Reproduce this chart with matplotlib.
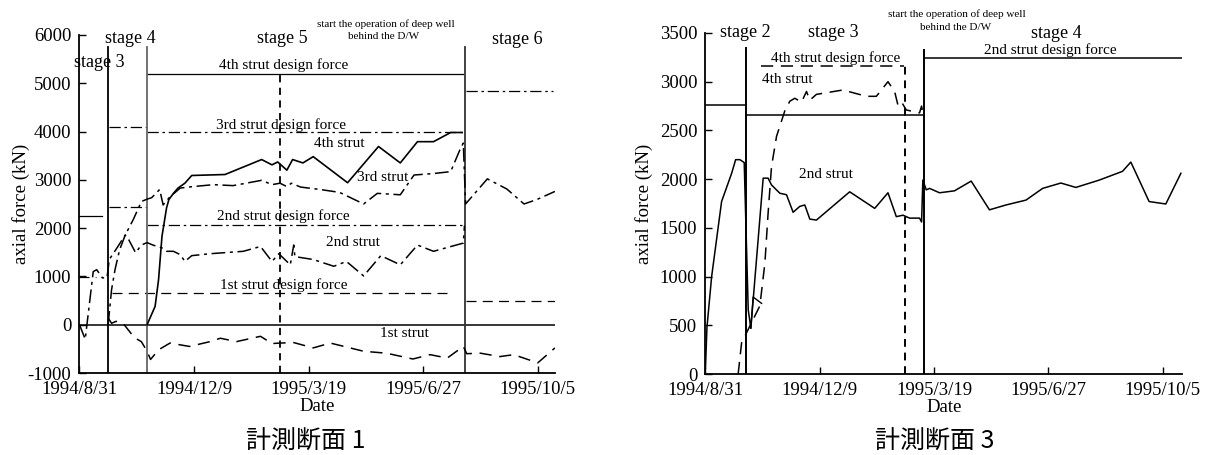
#!/usr/bin/env python3
"""Axial strut forces at two measuring sections (section 1 and section 3)."""
import numpy as np
import matplotlib.pyplot as plt

plt.rcParams["font.family"] = ["Liberation Serif", "DejaVu Serif"]
plt.rcParams["axes.unicode_minus"] = False

# x values are days counted from 1994/8/31
date_ticks = [0, 100, 200, 300, 400]
date_labels = ["1994/8/31", "1994/12/9", "1995/3/19", "1995/6/27", "1995/10/5"]

# ---------------- section 1 ----------------
s1_yticks = [-1000, 0, 1000, 2000, 3000, 4000, 5000, 6000]

s1_strut1_day = [25, 28, 32, 38, 48, 54, 59, 62, 69, 79, 96, 114, 123, 137, 158,
                 168, 175, 187, 204, 219, 248, 268, 291, 306, 321, 335, 338, 350,
                 367, 379, 400, 415]
s1_strut1_kn = [140, 30, 70, 30, -270, -350, -550, -720, -520, -380, -450, -350,
                -280, -350, -240, -390, -380, -370, -480, -380, -550, -590, -710,
                -620, -690, -450, -600, -590, -660, -620, -790, -480]

s1_strut2_day = [0, 5, 12, 15, 20, 24, 26, 33, 40, 43, 49, 54, 59, 64, 72, 76, 82,
                 88, 92, 98, 114, 143, 158, 168, 174, 184, 187, 188, 204, 222, 233,
                 248, 263, 280, 295, 309, 335, 336]
s1_strut2_kn = [0, -300, 1100, 1140, 970, 970, 1350, 1600, 1860, 1760, 1490, 1650,
                1700, 1650, 1590, 1520, 1520, 1450, 1310, 1430, 1470, 1520, 1620,
                1310, 1470, 1240, 1650, 1410, 1350, 1210, 1310, 1010, 1430, 1240,
                1650, 1520, 1690, 2050]

s1_strut3_day = [25, 28, 31, 35, 40, 47, 54, 59, 63, 70, 73, 79, 88, 99, 117, 134,
                 159, 168, 175, 181, 185, 193, 210, 227, 248, 260, 280, 292, 309,
                 324, 332, 335, 337, 356, 373, 388, 399, 415]
s1_strut3_kn = [0, 725, 1140, 1550, 1860, 2180, 2550, 2600, 2630, 2800, 2480, 2650,
                2830, 2860, 2900, 2880, 2990, 2900, 2930, 2860, 2930, 2850, 2800,
                2740, 2500, 2720, 2690, 3100, 3130, 3170, 3620, 3760, 2500, 3020,
                2810, 2500, 2590, 2760]

s1_strut4_day = [59, 66, 69, 72, 76, 78, 82, 86, 92, 98, 127, 159, 168, 173, 181,
                 186, 195, 204, 234, 261, 280, 295, 309, 324, 334]
s1_strut4_kn = [0, 380, 930, 1830, 2420, 2590, 2720, 2830, 2930, 3090, 3110, 3420,
                3310, 3370, 3200, 3420, 3350, 3480, 2940, 3690, 3350, 3790, 3790,
                3980, 3980]

# design force levels: start day, end day, value
s1_design_from = [0, 0, 26, 26, 28, 59, 59, 59, 337, 337]
s1_design_to = [20, 14, 59, 59, 326, 335, 335, 335, 413, 415]
s1_design_kn = [2250, 980, 4100, 2440, 660, 5200, 3990, 2070, 4840, 500]

# stage boundaries: day and top of the drawn line
s1_stage_day = [25.3, 59.2, 175, 336.7]
s1_stage_top = [5750, 5750, 5200, 5760]

s1_labels = ["stage 3", "stage 4", "stage 5", "stage 6",
             "4th strut design force", "3rd strut design force",
             "4th strut", "3rd strut", "2nd strut design force", "2nd strut",
             "1st strut design force", "1st strut"]
s1_label_day = [17, 44, 177, 382, 178, 176, 227, 265, 178, 239, 178, 284]
s1_label_kn = [5420, 5920, 5920, 5900, 5380, 4140, 3750, 3040, 2240, 1700, 830, -190]

# ---------------- section 3 ----------------
s3_yticks = [0, 500, 1000, 1500, 2000, 2500, 3000, 3500]

s3_strut2_day = [0, 1.3, 5.4, 14.1, 22.9, 26.4, 30.1, 33.9, 37.4, 39.7, 50.5, 54.8,
                 57.8, 65.1, 70.9, 76.7, 82.5, 86.9, 91.3, 97.1, 126.2, 148.1,
                 159.7, 167, 172.8, 178.6, 187.3, 189.1, 190.2, 193.2, 196.1, 204.8,
                 217.9, 232.5, 248.5, 263, 280.5, 295, 311, 324.1, 344.5, 364.9,
                 372.2, 388.2, 402.8, 416]
s3_strut2_kn = [60, 480, 1000, 1770, 2060, 2200, 2200, 2170, 660, 470, 2010, 2010,
                1940, 1855, 1840, 1660, 1720, 1735, 1590, 1580, 1870, 1700, 1860,
                1615, 1630, 1600, 1600, 1560, 1990, 1890, 1905, 1860, 1880, 1980,
                1685, 1735, 1785, 1905, 1960, 1915, 1990, 2080, 2175, 1770, 1745,
                2060]

s3_stub_day = [39.7, 41.7, 49.1]
s3_stub_kn = [470, 790, 725]

s3_strut4_day = [28.6, 31.6, 47.6, 52, 54.8, 57.8, 62.2, 69.4, 73.8, 78.2, 84, 88.4,
                 91.3, 97.1, 120.3, 140.8, 149.5, 159.7, 165.5, 168.4, 171.4, 175.7,
                 187.3, 189.1, 190.4]
s3_strut4_kn = [0, 320, 700, 1140, 1650, 2130, 2440, 2700, 2800, 2830, 2790, 2900,
                2810, 2870, 2915, 2850, 2850, 3000, 2900, 2760, 2795, 2710, 2680,
                2750, 2660]

s3_design_from = [0, 35.4, 49, 190.8]
s3_design_to = [35.4, 190.8, 174, 417]
s3_design_kn = [2760, 2660, 3160, 3245]

s3_stage_day = [35.4, 174.7, 190.8]
s3_stage_top = [3347, 3170, 3326]

s3_labels = ["stage 2", "stage 3", "stage 4", "2nd strut design force",
             "4th strut design force", "4th strut", "2nd strut"]
s3_label_day = [34.5, 112, 307, 301.7, 114, 71.2, 105.2]
s3_label_kn = [3500, 3500, 3490, 3326, 3244, 3018, 2043]

DASH = (0, (8, 5))
DASHDOT = (0, (9, 3, 2, 3))
SHORTDASH = (0, (4, 3))


def setup_axes(ax, yticks, xmax, ylabel_x):
    """Common axis styling: left/bottom spines only, inward ticks."""
    ax.set_xlim(0, xmax)
    ax.set_ylim(yticks[0], yticks[-1])
    ax.set_xticks(date_ticks)
    ax.set_xticklabels(date_labels)
    ax.set_yticks(yticks)
    ax.set_yticklabels([str(v) for v in yticks])
    ax.tick_params(direction="in", length=5, labelsize=13.5, pad=6, width=1)
    for side in ["top", "right"]:
        ax.spines[side].set_visible(False)
    ax.spines["left"].set_linewidth(1.3)
    ax.spines["bottom"].set_linewidth(1.3)
    ax.set_xlabel("Date", fontsize=13.5, labelpad=0)
    ax.set_ylabel("axial force (kN)", fontsize=13.5)
    ax.yaxis.set_label_coords(ylabel_x, 0.5)


fig = plt.figure(figsize=(12.08, 4.55), dpi=100)
ax1 = fig.add_axes([0.0658, 0.1802, 0.3936, 0.743])
ax3 = fig.add_axes([0.584, 0.178, 0.3945, 0.7495])

# ---- section 1 ----
setup_axes(ax1, s1_yticks, 415, -0.104)
ax1.axhline(0, color="black", lw=1.1)
s1_design_styles = ["-", DASH, DASHDOT, DASHDOT, DASH, "-", DASHDOT, DASHDOT,
                    DASHDOT, DASH]
for d0, d1, kn, ls in zip(s1_design_from, s1_design_to, s1_design_kn,
                          s1_design_styles):
    ax1.plot([d0, d1], [kn, kn], color="black", lw=0.9, linestyle=ls)

s1_stage_styles = ["-", "-", SHORTDASH, "-"]
s1_stage_colors = ["black", "#666666", "black", "#333333"]
for day, top, ls, c in zip(s1_stage_day, s1_stage_top, s1_stage_styles,
                           s1_stage_colors):
    ax1.plot([day, day], [-1000, top], color=c, lw=1.3, linestyle=ls)

ax1.plot(s1_strut1_day, s1_strut1_kn, color="black", lw=1.1, linestyle=DASH)
ax1.plot(s1_strut2_day, s1_strut2_kn, color="black", lw=1.1, linestyle=DASHDOT)
ax1.plot(s1_strut3_day, s1_strut3_kn, color="black", lw=1.1, linestyle=DASHDOT)
ax1.plot(s1_strut4_day, s1_strut4_kn, color="black", lw=1.2)

for txt, d, kn in zip(s1_labels, s1_label_day, s1_label_kn):
    size = 13 if txt.startswith("stage") else 11
    ax1.text(d, kn, txt, fontsize=size, ha="center", va="center", clip_on=False)
ax1.text(267, 6230, "start the operation of deep well", fontsize=8,
         ha="center", va="center", clip_on=False)
ax1.text(265, 5960, "behind the D/W", fontsize=8, ha="center", va="center",
         clip_on=False)

# ---- section 3 ----
setup_axes(ax3, s3_yticks, 417, -0.110)
s3_design_styles = ["-", "-", DASH, "-"]
for d0, d1, kn, ls in zip(s3_design_from, s3_design_to, s3_design_kn,
                          s3_design_styles):
    ax3.plot([d0, d1], [kn, kn], color="black", lw=1.1, linestyle=ls)

s3_stage_styles = ["-", SHORTDASH, "-"]
for day, top, ls in zip(s3_stage_day, s3_stage_top, s3_stage_styles):
    ax3.plot([day, day], [0, top], color="black", lw=1.4, linestyle=ls)

ax3.plot(s3_strut2_day, s3_strut2_kn, color="black", lw=1.1)
ax3.plot(s3_stub_day, s3_stub_kn, color="black", lw=1.0)
ax3.plot(s3_strut4_day, s3_strut4_kn, color="black", lw=1.1, linestyle=DASH)

for txt, d, kn in zip(s3_labels, s3_label_day, s3_label_kn):
    size = 13 if txt.startswith("stage") else 11
    ax3.text(d, kn, txt, fontsize=size, ha="center", va="center", clip_on=False)
ax3.text(219.7, 3696, "start the operation of deep well", fontsize=8,
         ha="center", va="center", clip_on=False)
ax3.text(218.8, 3552, "behind the D/W", fontsize=8, ha="center", va="center",
         clip_on=False)

# captions under each panel
cap_font = ["Noto Sans CJK JP", "DejaVu Sans"]
fig.text(306 / 1208, 1 - 442 / 455, "計測断面 1", fontsize=18, family=cap_font,
         ha="center", va="center")
fig.text(935 / 1208, 1 - 442 / 455, "計測断面 3", fontsize=18, family=cap_font,
         ha="center", va="center")

fig.savefig("out.png", dpi=100)
